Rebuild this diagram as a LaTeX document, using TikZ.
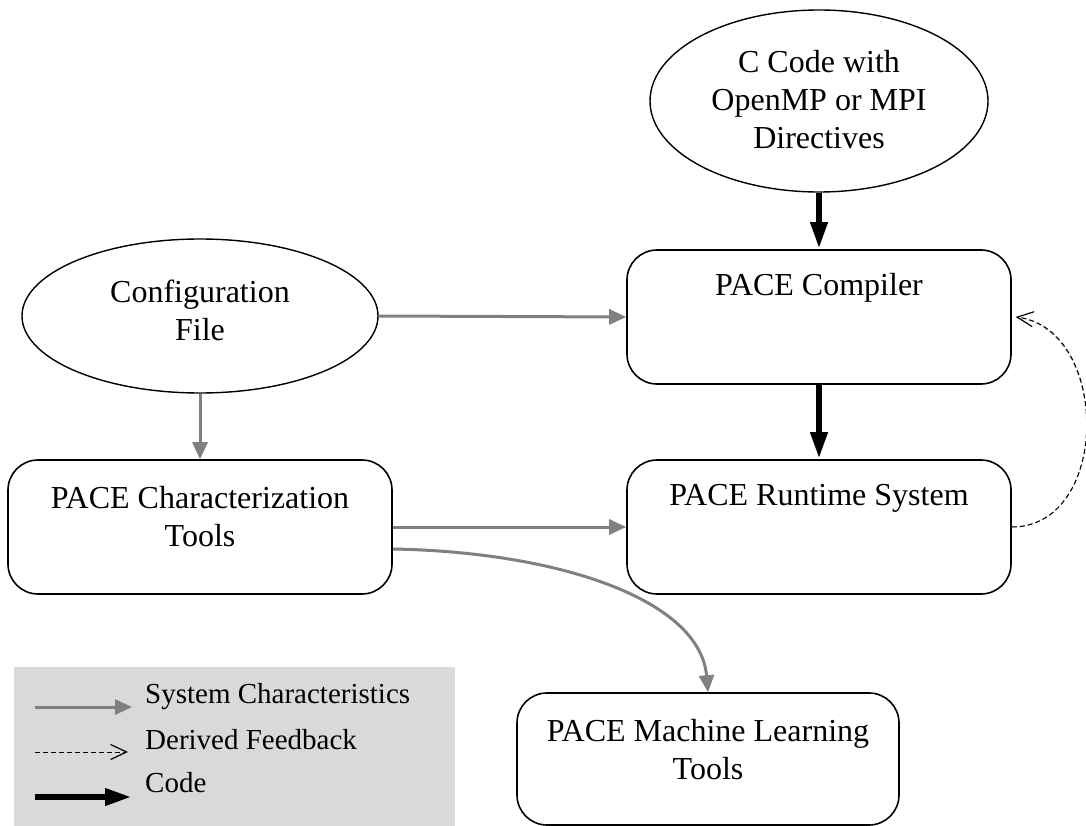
\documentclass[tikz,border=0pt]{standalone}
\usepackage{fontspec}
\setmainfont{Liberation Serif}
\usetikzlibrary{arrows.meta,shapes.geometric}
\definecolor{arrgray}{RGB}{128,128,128}
\definecolor{leggray}{RGB}{217,217,217}
\definecolor{fbgray}{RGB}{170,170,170}
\begin{document}
\begin{tikzpicture}[x=1pt,y=-1pt,
  box/.style={draw,line width=1.6pt,rounded corners=30pt,minimum width=384pt,minimum height=134pt,inner sep=0pt},
  oval/.style={draw,line width=1.4pt,ellipse,inner sep=0pt},
  lbl/.style={font=\fontsize{32}{38}\selectfont,align=center,inner sep=0pt},
  leglbl/.style={font=\fontsize{29}{34}\selectfont,anchor=west,inner sep=0pt},
  sys/.style={draw=arrgray,line width=3pt,-{Triangle[length=17pt,width=15pt,fill=arrgray]}},
  codearr/.style={draw=black,line width=6.5pt,-{Triangle[length=27pt,width=16pt]}},
  fbline/.style={line width=1pt,dash pattern=on 5pt off 3pt},
  fbtip/.style={-{Straight Barb[length=16pt,width=15pt,line width=1.2pt]}}
]
\useasboundingbox (0,0) rectangle (1086,826);

% legend background
\fill[leggray] (14,667) rectangle (455,826);

% nodes
\node[oval,minimum width=338pt,minimum height=182pt] (code) at (819,101) {};
\node[lbl] (codet) at (819,100) {C Code with\\OpenMP or MPI\\Directives};

\node[oval,minimum width=356pt,minimum height=154pt] (cfg) at (200,316) {};
\node[lbl] (cfgt) at (200,310) {Configuration\\File};

\node[box] (comp) at (819,317) {};
\node[lbl] (compt) at (819,288) {PACE Compiler};

\node[box] (run) at (819,527) {};
\node[lbl] (runt) at (819,498) {PACE Runtime System};

\node[box] (char) at (200,527) {};
\node[lbl] (chart) at (200,517) {PACE Characterization\\Tools};

\node[box,minimum width=382pt,minimum height=132pt] (ml) at (708,759) {};
\node[lbl] (mlt) at (708,750) {PACE Machine Learning\\Tools};

% connectors
\draw[codearr] (code.south) -- (comp.north);
\draw[codearr] (comp.south) -- (run.north);
\draw[sys] (cfg.east) -- (comp.west);
\draw[sys] (cfg.south) -- (char.north);
\draw[sys] (char.east) -- (run.west);
\draw[sys] ([yshift=-22pt]char.east) .. controls (560,552) and (700,600) .. (ml.north);

% feedback
\draw[fbline,fbgray,xshift=2pt,yshift=-2pt] (run.east) .. controls ([xshift=99pt]run.east) and ([xshift=99pt,yshift=-12pt]comp.east) .. ([xshift=4pt]comp.east);
\draw[fbline,fbtip] (run.east) .. controls ([xshift=99pt]run.east) and ([xshift=99pt,yshift=-12pt]comp.east) .. ([xshift=4pt]comp.east);

% legend
\coordinate (l1a) at (35,707); \coordinate (l1b) at (132,707);
\coordinate (l2a) at (35,752); \coordinate (l2b) at (128,752);
\coordinate (l3a) at (35,797); \coordinate (l3b) at (132,797);
\draw[sys] (l1a) -- (l1b);
\draw[fbline,fbtip] (l2a) -- (l2b);
\draw[codearr] (l3a) -- (l3b);
\node[leglbl] (lt1) at (145,697) {System Characteristics};
\node[leglbl] (lt2) at (145,740) {Derived Feedback};
\node[leglbl] (lt3) at (145,783) {Code};
\end{tikzpicture}
\end{document}
